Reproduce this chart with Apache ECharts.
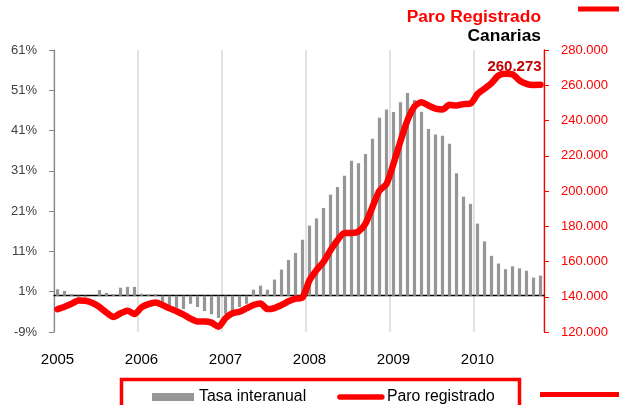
<!DOCTYPE html>
<html>
<head>
<meta charset="utf-8">
<script src="https://cdn.jsdelivr.net/npm/echarts@6/dist/echarts.min.js"></script>
<style>
  html, body { margin: 0; padding: 0; background: #fff; }
  #chart { width: 619px; height: 405px; }
</style>
</head>
<body>
<div id="chart"></div>
<script>
// years on the category axis (2010 stops in October)
const years = ['2005', '2006', '2007', '2008', '2009', '2010'];
const leftTicks = [-9, 1, 11, 21, 31, 41, 51, 61];

// Tasa interanual (%), monthly
const tasaInteranual = [
  1.6, 1.2, 0.4, -0.4, -0.3, 0.0, 1.4, 0.7, 0.4, 2.0, 2.2, 2.2,
  0.5, 0.3, 0.4, -1.8, -2.5, -3.0, -3.3, -2.0, -2.8, -3.8, -4.6, -5.5,
  -4.5, -3.8, -2.8, -2.0, 1.5, 2.5, 1.5, 4.0, 6.5, 8.9, 10.6, 13.9,
  17.4, 19.2, 21.8, 25.1, 27.0, 29.8, 33.5, 32.9, 35.2, 39.0, 44.2, 46.2,
  45.6, 48.0, 50.3, 48.6, 45.7, 41.4, 40.0, 39.7, 37.7, 30.4, 24.6, 22.8,
  17.9, 13.5, 9.9, 8.0, 6.6, 7.3, 6.8, 6.2, 4.5, 5.0
];

// Paro registrado, monthly
const paroRegistrado = [
  132900, 134300, 136000, 137900, 137700, 136500, 134200, 131000, 128500, 130600, 132100, 130200,
  134000, 135800, 136800, 135300, 133400, 131800, 129900, 127600, 126000, 126000, 125300, 123000,
  127800, 130600, 131500, 133400, 135300, 136200, 133000, 133600, 135300, 137400, 138900, 139600,
  149400, 155100, 159800, 166400, 172100, 176200, 176200, 177000, 181500, 191000, 200200, 204000,
  215500, 228300, 240200, 248000, 250300, 248500, 246700, 246200, 248900, 248500, 249300, 249600,
  255000, 258000, 261200, 265500, 266500, 266200, 262700, 260800, 260200, 260273
];

const months = [];
years.forEach((y, i) => {
  const n = i === years.length - 1 ? 10 : 12;
  for (let m = 1; m <= n; m++) {
    months.push(y + '-' + String(m).padStart(2, '0'));
  }
});

const fontFamily = "'Liberation Sans', Arial, sans-serif";
const yearStart = i => i % 12 === 0;
const fmtMiles = v => (v / 1000).toFixed(3);
const last = paroRegistrado.length - 1;

const chart = echarts.init(document.getElementById('chart'));

const option = {
  animation: false,
  textStyle: { fontFamily },
  title: [
    {
      text: 'Paro Registrado',
      right: 73,
      top: 4,
      textStyle: { color: '#ff0000', fontSize: 17.4, fontWeight: 'bold', fontFamily }
    },
    {
      text: 'Canarias',
      right: 73,
      top: 22.5,
      textStyle: { color: '#000', fontSize: 17.4, fontWeight: 'bold', fontFamily }
    }
  ],
  grid: {
    left: 54,
    right: 75,
    top: 50,
    bottom: 73
  },
  legend: {
    left: 147,
    top: 384,
    itemWidth: 42,
    itemHeight: 8,
    itemGap: 31,
    textStyle: { color: '#000', fontSize: 15.8, fontFamily },
    data: [
      { name: 'Tasa interanual', icon: 'rect' },
      {
        name: 'Paro registrado',
        itemStyle: { color: 'rgba(0,0,0,0)', borderWidth: 0 },
        lineStyle: { width: 5.5, cap: 'round', color: '#ff0000' }
      }
    ]
  },
  xAxis: [
    {
      type: 'category',
      data: months,
      axisLine: {
        onZero: true,
        onZeroAxisIndex: 0,
        lineStyle: { color: '#000', width: 1.3 }
      },
      axisTick: {
        interval: yearStart,
        length: 4,
        lineStyle: { color: '#000', width: 1.3 }
      },
      axisLabel: { show: false },
      splitLine: {
        show: true,
        interval: yearStart,
        lineStyle: { color: '#d9d9d9', width: 1.5 }
      }
    },
    {
      type: 'category',
      data: months,
      position: 'bottom',
      axisLine: { show: false, onZero: false },
      axisTick: { show: false },
      axisLabel: {
        interval: yearStart,
        margin: 20,
        color: '#000',
        fontSize: 15,
        fontFamily,
        formatter: v => v.slice(0, 4)
      },
      splitLine: { show: false }
    }
  ],
  yAxis: [
    {
      type: 'value',
      min: -9,
      max: 61,
      axisLine: { show: true, lineStyle: { color: '#868686', width: 1.2 } },
      axisTick: {
        show: true,
        length: 5,
        customValues: leftTicks,
        lineStyle: { color: '#868686' }
      },
      axisLabel: {
        customValues: leftTicks,
        margin: 17,
        color: '#404040',
        fontSize: 13,
        fontFamily,
        formatter: v => v + '%'
      },
      splitLine: { show: false }
    },
    {
      type: 'value',
      position: 'right',
      min: 120000,
      max: 280000,
      interval: 20000,
      axisLine: { show: true, lineStyle: { color: '#ff0000', width: 1.3 } },
      axisTick: { show: true, length: 5, lineStyle: { color: '#ff0000' } },
      axisLabel: {
        margin: 17,
        color: '#ff0000',
        fontSize: 13,
        fontFamily,
        formatter: fmtMiles
      },
      splitLine: { show: false }
    }
  ],
  series: [
    {
      name: 'Tasa interanual',
      type: 'bar',
      xAxisIndex: 0,
      yAxisIndex: 0,
      barWidth: 3.2,
      itemStyle: { color: '#969696' },
      data: tasaInteranual
    },
    {
      name: 'Paro registrado',
      type: 'line',
      xAxisIndex: 0,
      yAxisIndex: 1,
      symbol: 'none',
      smooth: 0.25,
      z: 5,
      lineStyle: { color: '#ff0000', width: 6.5, cap: 'round', join: 'round' },
      itemStyle: { color: '#ff0000' },
      data: paroRegistrado,
      markPoint: {
        symbol: 'circle',
        symbolSize: 0,
        silent: true,
        label: {
          show: true,
          position: 'top',
          offset: [-26, -5],
          color: '#c00000',
          fontSize: 15,
          fontWeight: 'bold',
          fontFamily,
          formatter: p => fmtMiles(p.value)
        },
        data: [
          { coord: [months[last], paroRegistrado[last]], value: paroRegistrado[last] }
        ]
      }
    }
  ],
  graphic: [
    {
      type: 'rect',
      shape: { x: 121.5, y: 379.5, width: 398, height: 40 },
      style: { fill: 'none', stroke: '#ff0000', lineWidth: 3.5 },
      silent: true,
      z: -1
    },
    {
      type: 'line',
      shape: { x1: 578, y1: 9, x2: 619, y2: 9 },
      style: { stroke: '#ff0000', lineWidth: 5 },
      silent: true
    },
    {
      type: 'line',
      shape: { x1: 540, y1: 394.5, x2: 619, y2: 394.5 },
      style: { stroke: '#ff0000', lineWidth: 5 },
      silent: true
    }
  ]
};

chart.setOption(option);
</script>
</body>
</html>
